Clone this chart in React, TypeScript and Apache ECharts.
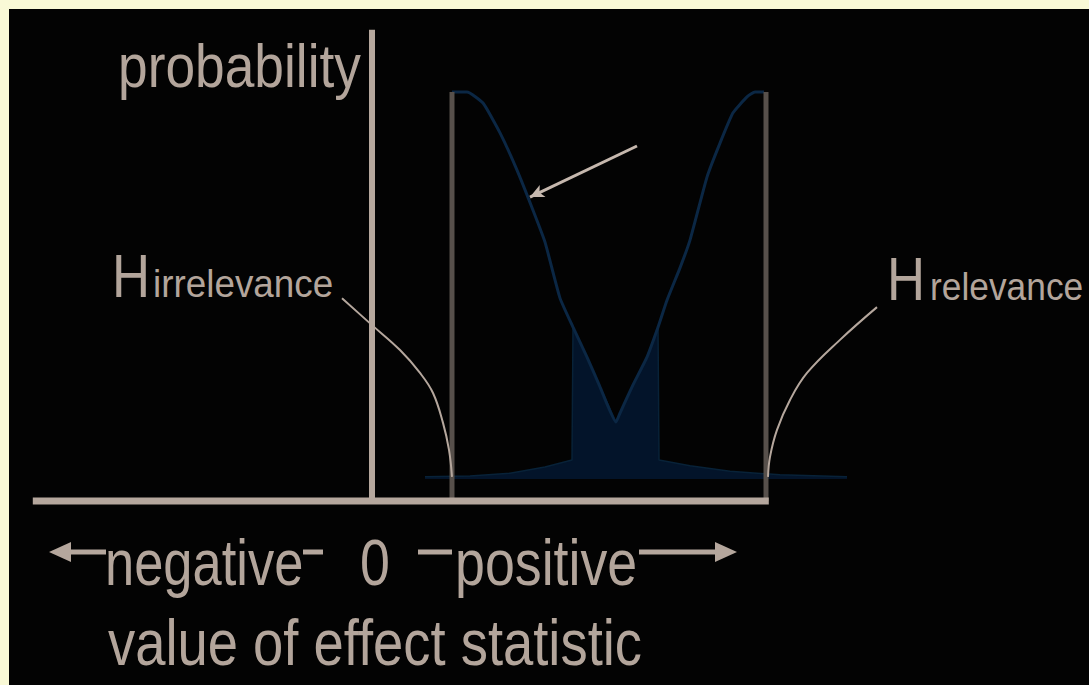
import React, { useEffect, useRef } from "react";
import * as echarts from "echarts";

// ---- data (x: effect statistic, arbitrary units; y: probability, peak = 1) ----
const horizontalAxis: number[][] = [[-4.24, 0], [4.96, 0]];
const verticalAxis: number[][] = [[0, 0], [0, 1.152]];
const lowerThreshold: number[][] = [[1.0, 0], [1.0, 1.0]];
const upperThreshold: number[][] = [[4.925, 0], [4.925, 1.0]];

const likelihoodCurve: number[][] = [
  [1.0, 1.0], [1.1875, 1.0], [1.3875, 0.973], [1.6, 0.9], [1.8125, 0.809],
  [2.0125, 0.711], [2.1625, 0.633], [2.35, 0.496], [2.5125, 0.425],
  [2.6875, 0.352], [2.85, 0.279], [3.05, 0.193], [3.1, 0.215],
  [3.2625, 0.284], [3.4375, 0.352], [3.575, 0.425], [3.6875, 0.491],
  [3.85, 0.57], [3.975, 0.638], [4.1875, 0.792], [4.35, 0.875],
  [4.5125, 0.949], [4.6875, 0.988], [4.7875, 1.0], [4.9, 1.0],
];

const densityFill: number[][] = [
  [0.6625, 0.059], [1.225, 0.061], [1.725, 0.068], [2.1625, 0.083],
  [2.5, 0.1], [2.5125, 0.425], [2.6875, 0.352], [2.85, 0.279],
  [3.05, 0.193], [3.1, 0.215], [3.2625, 0.284], [3.4375, 0.352],
  [3.575, 0.425], [3.5875, 0.1], [3.975, 0.086], [4.475, 0.073],
  [5.1, 0.064], [5.9375, 0.059],
];
const densityBase = 0.054;

const irrelevancePointer: number[][] = [
  [-0.375, 0.496], [0, 0.43], [0.35, 0.369], [0.6, 0.313], [0.7625, 0.264],
  [0.8875, 0.191], [0.9625, 0.125], [1.0, 0.059],
];
const relevancePointer: number[][] = [
  [6.3125, 0.474], [5.85, 0.394], [5.4375, 0.313], [5.225, 0.247],
  [5.0625, 0.174], [4.975, 0.108], [4.95, 0.059],
];
const arrowFrom: number[] = [3.3125, 0.868];
const arrowTo: number[] = [1.975, 0.743];

const texts = {
  yTitle: "probability",
  hLetter: "H",
  irrelevance: "irrelevance",
  relevance: "relevance",
  negative: "negative",
  zero: "0",
  positive: "positive",
  xTitle: "value of effect statistic",
};

const BEIGE = "#b5a79d";
const TEXT = "#b3a59b";
const FONT = "'Liberation Sans', Arial, sans-serif";

function lineSeries(data: number[][], color: string, width: number, z: number, smooth: boolean | number = false) {
  return {
    type: "line",
    data,
    symbol: "none",
    smooth,
    silent: true,
    z,
    lineStyle: { color, width, cap: "butt" },
  };
}

function txt(x: number, y: number, text: string, size: number, scaleX: number) {
  return {
    type: "text",
    x,
    y,
    scaleX,
    silent: true,
    style: {
      text,
      x: 0,
      y: 0,
      align: "left",
      verticalAlign: "middle",
      fill: TEXT,
      font: `${size}px ${FONT}`,
    },
  };
}

export default function App() {
  const ref = useRef<HTMLDivElement>(null);
  useEffect(() => {
    if (!ref.current) return;
    const chart = echarts.init(ref.current, null, { renderer: "svg" });
    const bar = { stroke: BEIGE, lineWidth: 5 };
    chart.setOption({
      animation: false,
      backgroundColor: "#030303",
      grid: { left: 3, top: 1.2, width: 1072, height: 654.4 },
      xAxis: { type: "value", min: -4.5, max: 8.9, show: false },
      yAxis: { type: "value", min: -0.4, max: 1.2, show: false },
      series: [
        {
          type: "line",
          data: densityFill,
          symbol: "none",
          silent: true,
          z: 1,
          lineStyle: { color: "#082238", width: 1.5 },
          areaStyle: { color: "#03142a", opacity: 1, origin: densityBase },
        },
        lineSeries(likelihoodCurve, "#0b2744", 3, 2, 0.15),
        lineSeries(lowerThreshold, "#57504b", 5, 3),
        lineSeries(upperThreshold, "#57504b", 5, 3),
        lineSeries(verticalAxis, BEIGE, 6, 4),
        lineSeries(horizontalAxis, BEIGE, 7, 4),
        lineSeries(irrelevancePointer, BEIGE, 2, 5, 0.4),
        lineSeries(relevancePointer, BEIGE, 2, 5, 0.4),
        {
          type: "line",
          data: [],
          silent: true,
          z: 6,
          markLine: {
            silent: true,
            symbol: ["none", "arrow"],
            symbolSize: [10, 14],
            label: { show: false },
            lineStyle: { color: "#c6b8ae", width: 3, type: "solid" },
            data: [[{ coord: arrowFrom }, { coord: arrowTo }]],
          },
        },
      ],
      graphic: [
        txt(109, 57, texts.yTitle, 62, 0.86),
        txt(103, 266.5, texts.hLetter, 62, 0.85),
        txt(144, 275, texts.irrelevance, 38, 0.97),
        txt(878, 269.5, texts.hLetter, 62, 0.85),
        txt(921, 278, texts.relevance, 38, 0.93),
        txt(96, 554, texts.negative, 64, 0.82),
        txt(351, 554, texts.zero, 64, 0.84),
        txt(446, 554, texts.positive, 64, 0.84),
        txt(99, 634, texts.xTitle, 64, 0.85),
        // decorative arrows / dashes of the axis caption
        { type: "polygon", silent: true, shape: { points: [[40, 543], [62, 533], [62, 553]] }, style: { fill: BEIGE } },
        { type: "line", silent: true, shape: { x1: 60, y1: 543, x2: 97, y2: 543 }, style: bar },
        { type: "line", silent: true, shape: { x1: 294, y1: 543, x2: 314, y2: 543 }, style: bar },
        { type: "line", silent: true, shape: { x1: 409, y1: 543, x2: 443, y2: 543 }, style: bar },
        { type: "line", silent: true, shape: { x1: 630, y1: 543, x2: 710, y2: 543 }, style: bar },
        { type: "polygon", silent: true, shape: { points: [[728, 543], [706, 533], [706, 553]] }, style: { fill: BEIGE } },
      ],
    });
    return () => chart.dispose();
  }, []);
  return (
    <div style={{ position: "fixed", left: 0, top: 0, width: 1089, height: 685, background: "#f9f9d6" }}>
      <div ref={ref} style={{ position: "absolute", left: 9, top: 9, width: 1080, height: 676 }} />
    </div>
  );
}
